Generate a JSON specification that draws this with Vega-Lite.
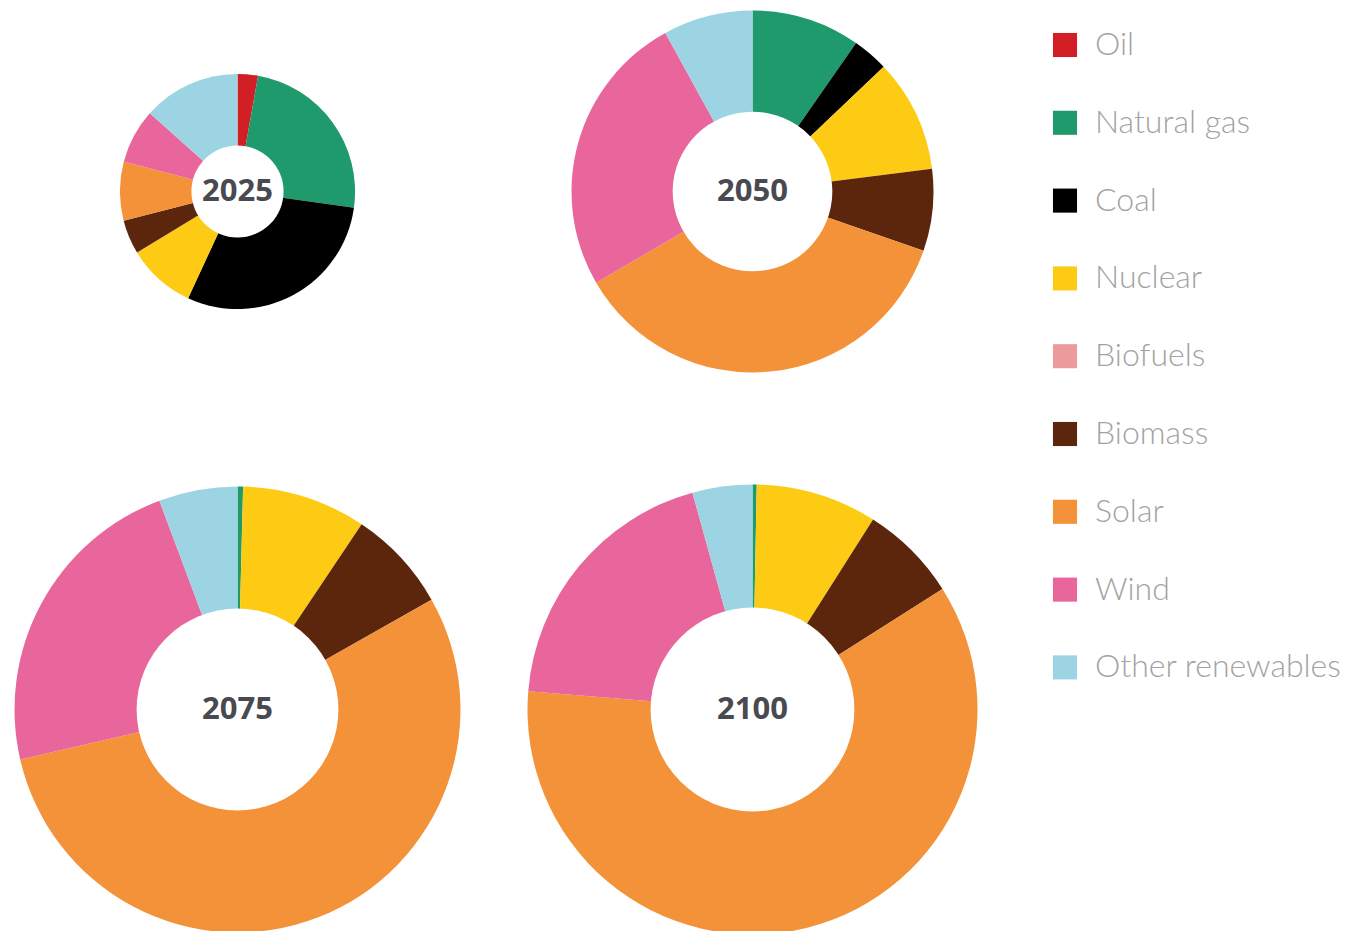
{
  "$schema": "https://vega.github.io/schema/vega-lite/v6.json",
  "background": "white",
  "padding": {"top": -19, "left": 0, "right": 0, "bottom": 0},
  "bounds": "flush",
  "data": {
    "values": [
      {"year": "2025", "source": "Oil", "share": 2.8, "total": 27.3},
      {"year": "2025", "source": "Natural gas", "share": 24.4, "total": 27.3},
      {"year": "2025", "source": "Coal", "share": 29.7, "total": 27.3},
      {"year": "2025", "source": "Nuclear", "share": 9.4, "total": 27.3},
      {"year": "2025", "source": "Biomass", "share": 4.7, "total": 27.3},
      {"year": "2025", "source": "Solar", "share": 8.1, "total": 27.3},
      {"year": "2025", "source": "Wind", "share": 7.5, "total": 27.3},
      {"year": "2025", "source": "Other renewables", "share": 13.4, "total": 27.3},
      {"year": "2050", "source": "Natural gas", "share": 9.7, "total": 64.7},
      {"year": "2050", "source": "Coal", "share": 3.2, "total": 64.7},
      {"year": "2050", "source": "Nuclear", "share": 10.1, "total": 64.7},
      {"year": "2050", "source": "Biomass", "share": 7.3, "total": 64.7},
      {"year": "2050", "source": "Solar", "share": 36.3, "total": 64.7},
      {"year": "2050", "source": "Wind", "share": 25.4, "total": 64.7},
      {"year": "2050", "source": "Other renewables", "share": 8.0, "total": 64.7},
      {"year": "2075", "source": "Natural gas", "share": 0.4, "total": 98.2},
      {"year": "2075", "source": "Nuclear", "share": 9.0, "total": 98.2},
      {"year": "2075", "source": "Biomass", "share": 7.4, "total": 98.2},
      {"year": "2075", "source": "Solar", "share": 54.6, "total": 98.2},
      {"year": "2075", "source": "Wind", "share": 22.9, "total": 98.2},
      {"year": "2075", "source": "Other renewables", "share": 5.7, "total": 98.2},
      {"year": "2100", "source": "Natural gas", "share": 0.3, "total": 100},
      {"year": "2100", "source": "Nuclear", "share": 8.7, "total": 100},
      {"year": "2100", "source": "Biomass", "share": 7.0, "total": 100},
      {"year": "2100", "source": "Solar", "share": 60.3, "total": 100},
      {"year": "2100", "source": "Wind", "share": 19.4, "total": 100},
      {"year": "2100", "source": "Other renewables", "share": 4.3, "total": 100}
    ]
  },
  "facet": {"field": "year", "type": "ordinal", "header": {"title": null, "labels": false, "labelExpr": "''"}},
  "columns": 2,
  "spacing": {"row": 137, "column": 40},
  "spec": {
    "width": 475,
    "height": 381,
    "layer": [
      {
        "transform": [
          {"calculate": "indexof(['Oil','Natural gas','Coal','Nuclear','Biofuels','Biomass','Solar','Wind','Other renewables'], datum.source)", "as": "source_order"}
        ],
        "mark": {"type": "arc", "stroke": null},
        "encoding": {
          "theta": {"field": "share", "type": "quantitative", "stack": "normalize"},
          "order": {"field": "source_order", "type": "quantitative", "sort": "ascending"},
          "radius": {"field": "total", "type": "quantitative", "scale": {"type": "sqrt", "zero": true, "domain": [0, 100], "range": [0, 225]}},
          "color": {
            "field": "source",
            "type": "nominal",
            "sort": ["Oil", "Natural gas", "Coal", "Nuclear", "Biofuels", "Biomass", "Solar", "Wind", "Other renewables"],
            "scale": {
              "domain": ["Oil", "Natural gas", "Coal", "Nuclear", "Biofuels", "Biomass", "Solar", "Wind", "Other renewables"],
              "range": ["#D21F26", "#1F9A6C", "#000000", "#FDCB14", "#EC9A9C", "#5C260C", "#F39238", "#E8669B", "#9DD4E3"]
            },
            "legend": {
              "title": null,
              "orient": "none",
              "legendX": 1049,
              "legendY": 28,
              "symbolType": "square",
              "symbolSize": 580,
              "symbolStrokeWidth": 0,
              "labelFont": "Lato",
              "labelFontWeight": 300,
              "labelFontSize": 32,
              "labelColor": "#A3A3A3",
              "labelOffset": 14,
              "rowPadding": 45.8,
              "labelLimit": 400
            }
          }
        }
      },
      {
        "transform": [{"aggregate": [{"op": "max", "field": "total", "as": "total"}], "groupby": ["year"]}],
        "mark": {"type": "circle", "color": "white", "opacity": 1, "stroke": null},
        "encoding": {
          "size": {"field": "total", "type": "quantitative", "legend": null, "scale": {"type": "linear", "zero": false, "domain": [27.3, 100], "range": [8495, 41548]}}
        }
      },
      {
        "transform": [{"aggregate": [{"op": "max", "field": "total", "as": "total"}], "groupby": ["year"]}],
        "mark": {"type": "text", "font": "Open Sans", "fontWeight": "bold", "fontSize": 31, "color": "#484A50", "baseline": "middle", "align": "center"},
        "encoding": {
          "text": {"field": "year", "type": "nominal"}
        }
      }
    ]
  },
  "config": {
    "view": {"stroke": null},
    "header": {"title": null, "labels": false},
    "headerFacet": {"title": null, "labels": false}
  }
}
